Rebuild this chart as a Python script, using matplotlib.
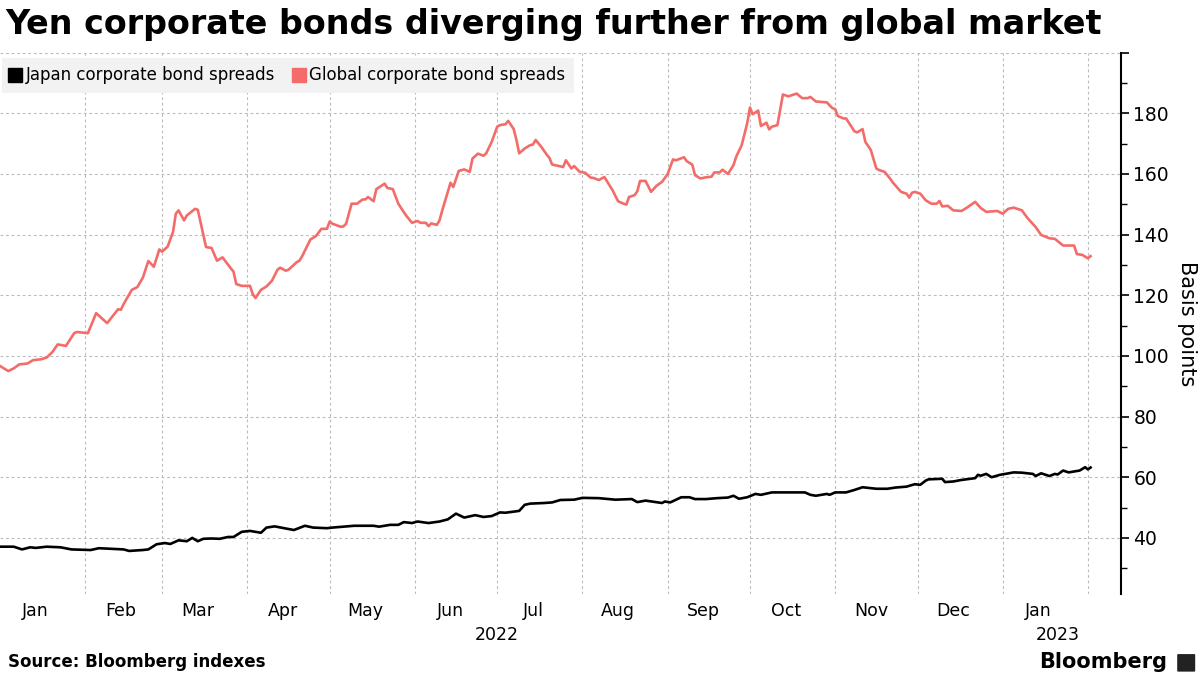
import numpy as np
import pandas as pd
import matplotlib
matplotlib.use('Agg')
import matplotlib.pyplot as plt
from matplotlib.lines import Line2D
from matplotlib.patches import FancyBboxPatch

start = pd.Timestamp('2022-01-01')

# days after 2022-01-01 and spread in basis points
global_days = [0, 3, 5, 7, 10, 12, 15, 17, 19, 21, 24, 27, 28, 32, 35, 39, 43, 44, 45, 48,
               50, 52, 54, 56, 58, 59, 61, 63, 64, 65, 67, 68, 71, 72, 75, 77, 79, 81, 84, 85,
               86, 88, 91, 92, 93, 95, 97, 99, 101, 102, 104, 105, 108, 109, 110, 113, 115, 117, 119, 120,
               121, 124, 125, 126, 128, 130, 132, 133, 134, 136, 137, 140, 141, 143, 145, 147, 148, 150, 152, 153,
               155, 156, 157, 159, 160, 161, 163, 164, 165, 167, 169, 171, 172, 174, 176, 177, 179, 181, 182, 184,
               185, 187, 188, 189, 191, 193, 194, 195, 197, 199, 200, 201, 203, 205, 206, 208, 209, 211, 213, 215,
               216, 218, 220, 223, 225, 227, 228, 229, 231, 232, 233, 235, 237, 239, 241, 243, 245, 246, 249, 250,
               252, 253, 255, 257, 259, 260, 262, 263, 265, 267, 268, 270, 272, 273, 274, 276, 277, 279, 280, 281,
               283, 285, 287, 290, 292, 294, 295, 297, 301, 303, 304, 305, 307, 308, 311, 312, 314, 315, 317, 319,
               320, 322, 324, 325, 328, 330, 331, 332, 333, 335, 337, 339, 341, 342, 343, 345, 347, 350, 352, 355,
               357, 359, 363, 365, 367, 369, 372, 374, 377, 379, 382, 384, 387, 391, 392, 394, 396, 397]
global_bp = [96.7, 95.0, 95.9, 97.2, 97.5, 98.6, 98.9, 99.5, 101.2, 103.8, 103.3, 107.5, 107.9, 107.5, 114.1, 110.8, 115.4, 115.2, 117.1, 121.8,
             122.7, 125.8, 131.3, 129.4, 135.1, 134.4, 136.0, 140.9, 146.9, 148.0, 144.7, 146.3, 148.5, 148.2, 135.9, 135.6, 131.4, 132.5, 128.9, 127.8,
             123.7, 123.1, 123.1, 120.4, 119.1, 121.8, 122.9, 124.8, 128.4, 129.1, 128.1, 128.4, 130.9, 131.4, 132.9, 138.4, 139.5, 141.9, 141.9, 144.3,
             143.6, 142.6, 142.7, 143.6, 150.2, 150.2, 151.6, 151.6, 152.4, 151.0, 155.0, 156.8, 155.4, 155.0, 150.2, 147.4, 146.1, 143.9, 144.5, 143.9,
             143.9, 142.8, 143.7, 143.2, 144.7, 148.0, 154.1, 157.1, 155.7, 161.0, 161.5, 160.7, 165.1, 166.7, 166.0, 166.8, 170.6, 175.6, 176.1, 176.4,
             177.5, 174.8, 171.2, 166.8, 168.4, 169.5, 169.7, 171.2, 169.0, 166.4, 165.3, 163.1, 162.7, 162.3, 164.5, 161.8, 162.6, 160.7, 160.4, 158.8,
             158.7, 158.0, 159.0, 154.6, 151.0, 150.2, 149.9, 152.4, 153.0, 154.3, 157.7, 157.7, 154.1, 156.1, 157.4, 159.9, 164.8, 164.5, 165.5, 164.2,
             163.1, 159.6, 158.5, 158.9, 159.1, 160.5, 160.5, 161.4, 160.0, 162.9, 165.7, 169.5, 176.7, 181.9, 179.7, 180.9, 175.8, 176.9, 174.7, 175.6,
             176.1, 186.2, 185.6, 186.5, 185.0, 185.0, 185.4, 183.9, 183.6, 181.7, 181.4, 179.1, 178.3, 178.3, 174.1, 173.7, 174.8, 170.6, 167.9, 161.8,
             161.3, 160.7, 158.5, 157.2, 154.1, 153.5, 152.2, 153.8, 154.1, 153.5, 151.3, 150.2, 150.2, 151.1, 149.3, 149.5, 148.0, 147.8, 148.9, 150.8,
             148.8, 147.5, 147.8, 146.9, 148.5, 148.9, 148.0, 145.5, 142.5, 139.9, 138.8, 138.6, 136.4, 136.4, 133.6, 133.3, 132.2, 132.9]

japan_days = [0, 5, 8, 11, 13, 17, 22, 26, 33, 36, 45, 47, 52, 54, 57, 60, 62, 65, 68, 70,
              72, 74, 77, 80, 83, 85, 88, 91, 95, 97, 100, 104, 107, 111, 114, 119, 121, 129, 136, 138,
              142, 145, 147, 150, 152, 156, 160, 163, 166, 169, 173, 176, 179, 182, 184, 189, 191, 193, 198, 201,
              204, 209, 212, 218, 224, 230, 232, 235, 241, 242, 244, 248, 251, 253, 257, 261, 265, 267, 269, 272,
              275, 277, 281, 293, 295, 297, 301, 302, 304, 308, 311, 314, 319, 323, 326, 330, 333, 335, 337, 338,
              343, 344, 347, 350, 355, 356, 357, 359, 361, 364, 366, 369, 372, 376, 377, 379, 382, 384, 385, 387,
              389, 393, 395, 396, 397]
japan_bp = [37.1, 37.1, 36.2, 36.9, 36.7, 37.1, 36.9, 36.2, 36.0, 36.6, 36.2, 35.7, 36.0, 36.2, 37.9, 38.3, 38.0, 39.2, 38.9, 40.0,
            38.9, 39.7, 39.8, 39.7, 40.3, 40.3, 42.0, 42.3, 41.7, 43.4, 43.8, 43.1, 42.6, 44.0, 43.4, 43.2, 43.4, 44.0, 44.0, 43.7,
            44.3, 44.3, 45.2, 44.9, 45.4, 44.9, 45.4, 46.1, 48.0, 46.7, 47.5, 46.9, 47.2, 48.4, 48.3, 48.9, 50.9, 51.3, 51.5, 51.7,
            52.5, 52.6, 53.2, 53.1, 52.6, 52.8, 51.8, 52.3, 51.5, 52.0, 51.7, 53.4, 53.4, 52.8, 52.8, 53.1, 53.3, 53.9, 52.9, 53.4,
            54.5, 54.2, 55.0, 55.0, 54.2, 53.9, 54.5, 54.2, 55.0, 55.0, 55.8, 56.7, 56.2, 56.2, 56.6, 56.9, 57.7, 57.5, 58.9, 59.3,
            59.5, 58.4, 58.6, 59.1, 59.7, 60.8, 60.5, 61.1, 60.0, 60.8, 61.1, 61.6, 61.5, 61.1, 60.4, 61.3, 60.4, 61.1, 60.9, 62.2,
            61.6, 62.2, 63.3, 62.6, 63.2]

series_names = ['Japan corporate bond spreads', 'Global corporate bond spreads']
month_labels = ['Jan', 'Feb', 'Mar', 'Apr', 'May', 'Jun', 'Jul', 'Aug', 'Sep', 'Oct', 'Nov', 'Dec', 'Jan']
year_labels = ['2022', '2023']
year_pos = ['2022-07-01', '2023-01-21']

red = '#f36c69'
global_dates = start + pd.to_timedelta(global_days, unit='D')
japan_dates = start + pd.to_timedelta(japan_days, unit='D')

fig = plt.figure(figsize=(12, 6.75), dpi=100)
ax = fig.add_axes([0.0, 0.12, 0.934, 0.802])

ax.plot(japan_dates, japan_bp, color='black', lw=1.9)
ax.plot(global_dates, global_bp, color=red, lw=1.9)

ax.set_xlim(start, start + pd.Timedelta(days=408))
ax.set_ylim(21.5, 200)

# month boundaries carry the grid, mid-months carry the labels
month_starts = pd.date_range('2022-02-01', '2023-02-01', freq='MS')
mid_months = pd.date_range('2022-01-01', '2023-01-01', freq='MS') + pd.Timedelta(days=13)
ax.set_xticks(month_starts)
ax.set_xticklabels([])
ax.set_xticks(mid_months, minor=True)
ax.set_xticklabels(month_labels, minor=True)
ax.tick_params(axis='x', which='both', length=0, labelsize=12.5, pad=6)

ax.yaxis.tick_right()
ax.yaxis.set_label_position('right')
ax.set_yticks(np.arange(40, 201, 20))
ax.set_yticklabels([str(v) for v in range(40, 181, 20)] + [''])
ax.set_yticks(np.arange(30, 200, 20), minor=True)
ax.tick_params(axis='y', which='major', length=6, width=1.2, labelsize=13.5, pad=3)
ax.tick_params(axis='y', which='minor', length=4, width=1)
ax.set_ylabel('Basis points', rotation=270, fontsize=15, labelpad=20)

for s in ['left', 'top', 'bottom']:
    ax.spines[s].set_visible(False)
ax.spines['right'].set_linewidth(1.5)

ax.grid(True, which='major', axis='both', color='#bbbbbb', linestyle=(0, (2.5, 2.5)), lw=0.8)
ax.set_axisbelow(True)

for lab, pos in zip(year_labels, year_pos):
    ax.text(pd.Timestamp(pos), -0.075, lab, transform=ax.get_xaxis_transform(),
            ha='center', va='center', fontsize=12.5)

handles = [Line2D([], [], marker='s', ls='', color='black', markersize=10),
           Line2D([], [], marker='s', ls='', color=red, markersize=10)]
leg = ax.legend(handles, series_names, loc='upper left', bbox_to_anchor=(0.0015, 0.99),
                ncol=2, frameon=True, fontsize=12, handlelength=0.6, handletextpad=0.35,
                columnspacing=1.1, borderaxespad=0, borderpad=0.5, fancybox=False)
leg.get_frame().set_facecolor('#f2f2f2')
leg.get_frame().set_edgecolor('none')
leg.get_frame().set_alpha(1)

fig.text(0.004, 0.963, 'Yen corporate bonds diverging further from global market',
         fontsize=24, fontweight='bold', ha='left', va='center')
fig.text(0.007, 0.019, 'Source: Bloomberg indexes', fontsize=12, fontweight='bold',
         ha='left', va='center')
fig.text(0.973, 0.019, 'Bloomberg', fontsize=15, fontweight='bold', ha='right', va='center')
fig.patches.append(FancyBboxPatch((0.982, 0.006), 0.013, 0.024, boxstyle='round,pad=0.001',
                                  transform=fig.transFigure, facecolor='#222222', edgecolor='none'))

plt.savefig('out.png', dpi=100)
